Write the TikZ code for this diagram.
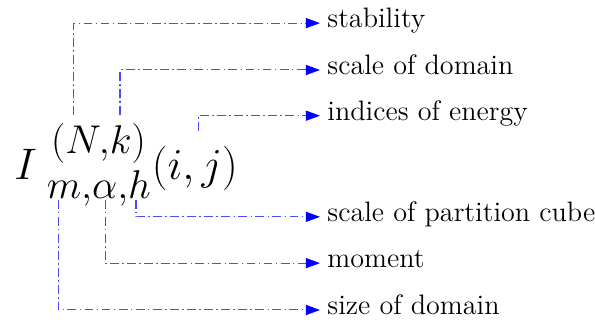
\RequirePackage{fix-cm}
\documentclass[tikz,border=0pt]{standalone}
\usepackage{amsmath}
\usepackage{tikz}
\usetikzlibrary{arrows.meta,positioning,calc}
\DeclareMathSizes{22}{22}{20}{15}
\tikzset{
  notelabel/.style={font=\fontsize{14}{16}\selectfont, anchor=west, inner xsep=3.5pt, inner ysep=0pt, text height=9.5pt, text depth=4.9pt},
  notearrow/.style={-{Triangle[length=7pt,width=5pt,color=blue]}, draw=blue!70, line width=0.5pt, dash pattern=on 4.4pt off 1.7pt on 0.7pt off 1.7pt},
  formula/.style={font=\fontsize{22}{26}\selectfont, inner sep=0pt, anchor=base west}
}

\begin{document}
\begin{tikzpicture}
\useasboundingbox (0,0) rectangle (10.4125,5.635);
\node[formula] (expr) at (0.245,2.50) {$I\:{}^{\mkern2mu(N,k)}_{m,\alpha,h}(i,j)$};
% where each connector leaves the formula
\coordinate (atN) at (1.28,3.62);
\coordinate (atk) at (2.10,3.62);
\coordinate (atij) at (3.47,3.34);
\coordinate (ath) at (2.38,2.14);
\coordinate (atalpha) at (1.84,2.14);
\coordinate (atm) at (1.02,2.14);
% labels on the right
\node[notelabel] (stab) at (5.60,5.23) {stability};
\node[notelabel] (dscale) at (5.60,4.41) {scale of domain};
\node[notelabel] (energy) at (5.60,3.61) {indices of energy};
\node[notelabel] (cube) at (5.60,1.84) {scale of partition cube};
\node[notelabel] (moment) at (5.60,1.03) {moment};
\node[notelabel] (dsize) at (5.60,0.21) {size of domain};
\draw[notearrow] (atN) |- (stab.west);
\draw[notearrow] (atk) |- (dscale.west);
\draw[notearrow] (atij) |- (energy.west);
\draw[notearrow] (ath) |- (cube.west);
\draw[notearrow] (atalpha) |- (moment.west);
\draw[notearrow] (atm) |- (dsize.west);
\end{tikzpicture}
\end{document}
